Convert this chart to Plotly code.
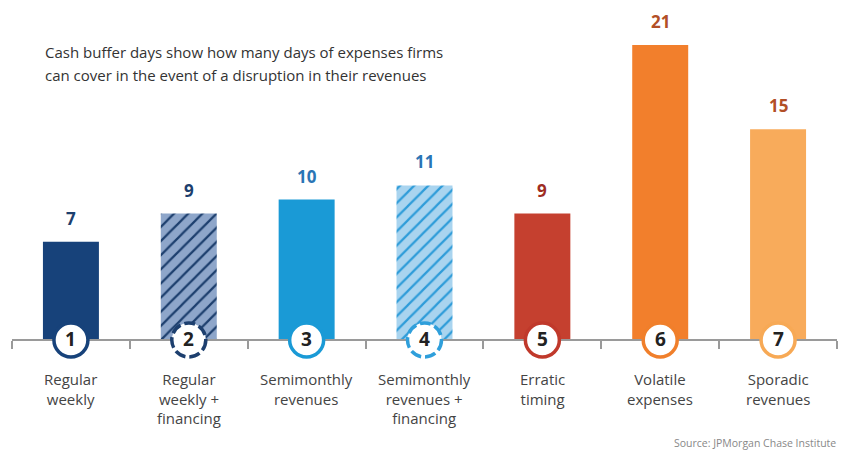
import plotly.graph_objects as go

# ---- data ----
categories = ["Regular<br>weekly", "Regular<br>weekly +<br>financing", "Semimonthly<br>revenues",
              "Semimonthly<br>revenues +<br>financing", "Erratic<br>timing", "Volatile<br>expenses",
              "Sporadic<br>revenues"]
values = [7, 9, 10, 11, 9, 21, 15]
numbers = ["1", "2", "3", "4", "5", "6", "7"]
hatched = [False, True, False, True, False, False, False]
bar_colors = ["#17427a", "#8ea6ca", "#1a9ad6", "#a9d4ef", "#c5402f", "#f27f2c", "#f8ab5b"]
hatch_colors = ["#17427a", "#1d3f6e", "#1a9ad6", "#2e9cd9", "#c5402f", "#f27f2c", "#f8ab5b"]
ring_colors = ["#17427a", "#1d3f6e", "#1a9ad6", "#2f9fdb", "#c0392b", "#f07f2b", "#f7a955"]
value_colors = ["#1d3f6e", "#1d3f6e", "#2a75b5", "#2a75b5", "#9e2d22", "#b24f26", "#b24f26"]
title_lines = ["Cash buffer days show how many days of expenses firms",
               "can cover in the event of a disruption in their revenues"]
source_text = "Source: JPMorgan Chase Institute"

# page body has an 8px margin, so the figure is drawn 8px smaller and offset
OFF = 8
W, H = 848 - OFF, 453 - OFF
ML, MR = 12 - OFF, 848 - 837
PW = W - ML - MR
px_per_unit = 14.05
baseline_px = 340 - OFF
ymax = baseline_px / px_per_unit
ymin = -(H - baseline_px) / px_per_unit


def px_x(px):
    return (px - OFF - ML) / PW


def px_y(py):
    return 1 - (py - OFF) / H


x = list(range(len(values)))
n = len(values)

fig = go.Figure()
for i in x:
    marker = dict(color=bar_colors[i], line=dict(width=0))
    if hatched[i]:
        marker["pattern"] = dict(shape="/", fgcolor=hatch_colors[i], fgopacity=1,
                                 size=10, solidity=0.22, fillmode="overlay")
    fig.add_trace(go.Bar(x=[x[i]], y=[values[i]], width=0.475, marker=marker,
                         hoverinfo="skip", name=numbers[i]))

shapes = []
annotations = []
for i in x:
    shapes.append(dict(
        type="circle", xref="x", yref="y", xsizemode="pixel", ysizemode="pixel",
        xanchor=i, yanchor=0, x0=-17, x1=17, y0=-17, y1=17,
        fillcolor="white", layer="above",
        line=dict(color=ring_colors[i], width=3.5, dash="11px,4px" if hatched[i] else "solid"),
    ))
    annotations.append(dict(
        x=i, y=0, xref="x", yref="y", text="<b>%s</b>" % numbers[i], showarrow=False,
        font=dict(family="Open Sans", size=19, color="#222222"), yshift=1,
    ))
    annotations.append(dict(
        x=i, y=values[i], xref="x", yref="y", text="<b>%d</b>" % values[i], showarrow=False,
        yanchor="bottom", yshift=10,
        font=dict(family="Open Sans", size=17, color=value_colors[i]),
    ))
    annotations.append(dict(
        x=i, y=0, xref="x", yref="y", text=categories[i], showarrow=False,
        yanchor="top", yshift=-28, borderpad=0,
        font=dict(family="Open Sans", size=15, color="#444444"),
    ))

for k, line in enumerate(title_lines):
    annotations.append(dict(
        x=px_x(43), y=px_y(52 + 23 * k), xref="paper", yref="paper", text=line,
        showarrow=False, xanchor="left", yanchor="middle",
        font=dict(family="Open Sans", size=15, color="#333333"),
    ))
annotations.append(dict(
    x=px_x(838), y=px_y(443), xref="paper", yref="paper", text=source_text,
    showarrow=False, xanchor="right", yanchor="middle",
    font=dict(family="Open Sans", size=10.5, color="#888888"),
))

fig.update_layout(
    width=W, height=H,
    margin=dict(l=ML, r=MR, t=0, b=0),
    paper_bgcolor="white", plot_bgcolor="white",
    showlegend=False, barmode="overlay",
    shapes=shapes, annotations=annotations,
    xaxis=dict(
        range=[-0.5, n - 0.5], anchor="free", position=-ymin / (ymax - ymin),
        showline=True, linecolor="#9a9a9a", linewidth=1.5,
        ticks="outside", ticklen=8, tickcolor="#9a9a9a", tickwidth=1.5,
        tickvals=[i - 0.5 for i in range(n + 1)], showticklabels=False,
        showgrid=False, zeroline=False, fixedrange=True,
    ),
    yaxis=dict(range=[ymin, ymax], visible=False, showgrid=False, zeroline=False, fixedrange=True),
)

fig.write_html("out.html")
